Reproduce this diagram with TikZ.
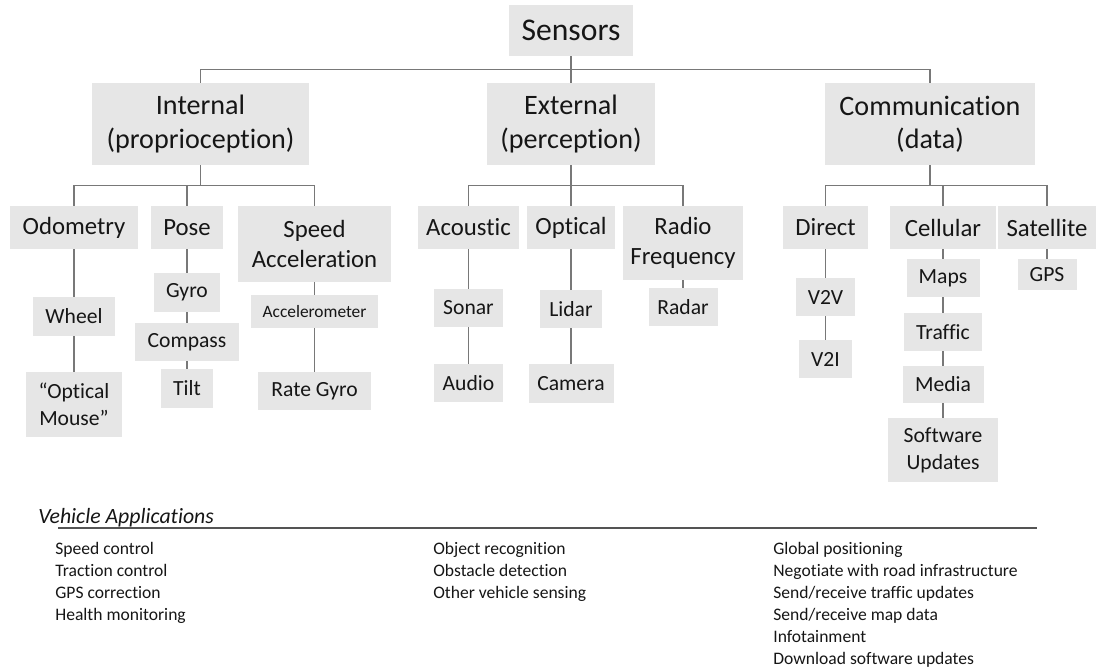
\documentclass[tikz,border=0pt]{standalone}
\usepackage{fontspec}
\setmainfont{Carlito}[Ligatures={TeX,NoCommon}]
\definecolor{boxgray}{RGB}{230,230,230}
\definecolor{linegray}{RGB}{120,120,120}
\definecolor{textdark}{RGB}{22,22,22}
\begin{document}
\begin{tikzpicture}[x=0.02cm, y=-0.02cm,
    box/.style={fill=boxgray, inner sep=0pt, align=center, text=textdark},
    root/.style={box, font=\fontsize{18}{21}\selectfont,
                 minimum width=2.48cm, minimum height=1.02cm},
    cat/.style={box, font=\fontsize{16}{19}\selectfont, minimum height=1.64cm},
    kind/.style={box, font=\fontsize{14.1}{17}\selectfont, minimum height=0.86cm},
    item/.style={box, font=\fontsize{12.3}{15.3}\selectfont, minimum height=0.76cm},
    link/.style={draw=linegray, line width=0.9pt},
    apptext/.style={anchor=north west, align=left, inner sep=0pt,
                    font=\fontsize{10}{12.47}\selectfont, text=textdark}]
  \useasboundingbox (0,0) rectangle (1098,666);

  % Nodes
  \node[root] (sensors) at (571,30.5) {Sensors};
  \node[cat, minimum width=4.34cm] (internal) at (200.5,124) {Internal\\(proprioception)};
  \node[cat, minimum width=3.38cm] (external) at (571,124)   {External\\(perception)};
  \node[cat, minimum width=4.2cm]  (comm)     at (930,124)   {Communication\\(data)};

  \node[kind, minimum width=2.58cm] (odometry) at (74,227.5)  {Odometry};
  \node[kind, minimum width=1.44cm] (pose)     at (187,227.5) {Pose};
  \node[kind, minimum width=3.06cm, minimum height=1.52cm]
                                    (speed)    at (314.5,244) {Speed\\Acceleration};
  \node[kind, minimum width=2.02cm] (acoustic) at (468.5,227.5) {Acoustic};
  \node[kind, minimum width=1.76cm] (optical)  at (571,227.5)   {Optical};
  \node[kind, minimum width=2.4cm, minimum height=1.48cm]
                                    (radio)    at (683,243)     {Radio\\Frequency};
  \node[kind, minimum width=1.7cm]  (direct)   at (825.5,227.5) {Direct};
  \node[kind, minimum width=2.12cm] (cellular) at (943,227.5)   {Cellular};
  \node[kind, minimum width=1.96cm] (satellite) at (1047,227.5) {Satellite};

  \node[item, minimum width=1.66cm, minimum height=0.78cm] (wheel) at (74,316.5) {Wheel};
  \node[item, minimum width=1.94cm, minimum height=1.3cm]  (mouse) at (74,404.5) {“Optical\\Mouse”};
  \node[item, minimum width=1.34cm, minimum height=0.78cm] (gyro)    at (187,292.5) {Gyro};
  \node[item, minimum width=2.1cm]                         (compass) at (187,342)   {Compass};
  \node[item, minimum width=1.04cm, minimum height=0.78cm] (tilt)    at (187,388.5) {Tilt};
  \node[item, minimum width=2.56cm, minimum height=0.66cm,
        font=\fontsize{9.9}{12}\selectfont]                (accel)    at (314.5,311.5) {Accelerometer};
  \node[item, minimum width=2.26cm]                        (rategyro) at (314.5,391)   {Rate Gyro};
  \node[item, minimum width=1.38cm] (sonar)  at (468.5,308) {Sonar};
  \node[item, minimum width=1.38cm] (audio)  at (468.5,383) {Audio};
  \node[item, minimum width=1.24cm] (lidar)  at (571,309)   {Lidar};
  \node[item, minimum width=1.7cm, minimum height=0.78cm] (camera) at (571,383.5) {Camera};
  \node[item, minimum width=1.38cm] (radar)  at (683,307)   {Radar};
  \node[item, minimum width=1.18cm] (v2v)    at (825.5,297) {V2V};
  \node[item, minimum width=1.06cm] (v2i)    at (825.5,359) {V2I};
  \node[item, minimum width=1.46cm] (maps)     at (943,278)   {Maps};
  \node[item, minimum width=1.56cm] (traffic)  at (943,332)   {Traffic};
  \node[item, minimum width=1.62cm, minimum height=0.74cm] (media) at (943,384.5) {Media};
  \node[item, minimum width=2.2cm, minimum height=1.28cm] (software) at (943,450) {Software\\Updates};
  \node[item, minimum width=1.18cm, minimum height=0.62cm] (gps) at (1047,274.5) {GPS};

  % Links
  \draw[link] (sensors) -- (external);
  \draw[link] (internal.north) -- ++(0,-13) -| (comm.north);

  \draw[link] (internal.south) -- ++(0,20) coordinate (ibar);
  \draw[link] (odometry.north) |- (ibar) -| (speed.north);
  \draw[link] (pose) -- (pose |- ibar);
  \draw[link] (odometry) -- (wheel) -- (mouse);
  \draw[link] (pose) -- (gyro) -- (compass) -- (tilt);
  \draw[link] (speed) -- (accel) -- (rategyro);

  \draw[link] (external.south) -- ++(0,20) coordinate (ebar);
  \draw[link] (acoustic.north) |- (ebar) -| (radio.north);
  \draw[link] (ebar) -- (optical);
  \draw[link] (acoustic) -- (sonar) -- (audio);
  \draw[link] (optical) -- (lidar) -- (camera);
  \draw[link] (radio) -- (radar);

  \draw[link] (comm.south) -- ++(0,20) coordinate (cbar);
  \draw[link] (direct.north) |- (cbar) -| (satellite.north);
  \draw[link] (cellular) -- (cellular |- cbar);
  \draw[link] (direct) -- (v2v) -- (v2i);
  \draw[link] (cellular) -- (maps) -- (traffic) -- (media) -- (software);
  \draw[link] (satellite) -- (gps);

  % Vehicle applications
  \node[anchor=base west, inner sep=0pt, text=textdark,
        font=\fontsize{12.4}{15}\selectfont\itshape] (apps) at (38,523) {Vehicle Applications};
  \coordinate (ruleL) at (58,528);
  \coordinate (ruleR) at (1037,528);
  \draw[draw=linegray!70!black, line width=0.7pt] (ruleL) -- (ruleR);

  \node[apptext] (internalapps) at (55,542)
    {Speed control\\Traction control\\GPS correction\\Health monitoring};
  \node[apptext] (externalapps) at (433,542)
    {Object recognition\\Obstacle detection\\Other vehicle sensing};
  \node[apptext] (commapps) at (773,542)
    {Global positioning\\Negotiate with road infrastructure\\Send/receive traffic updates\\Send/receive map data\\Infotainment\\Download software updates};
\end{tikzpicture}
\end{document}
